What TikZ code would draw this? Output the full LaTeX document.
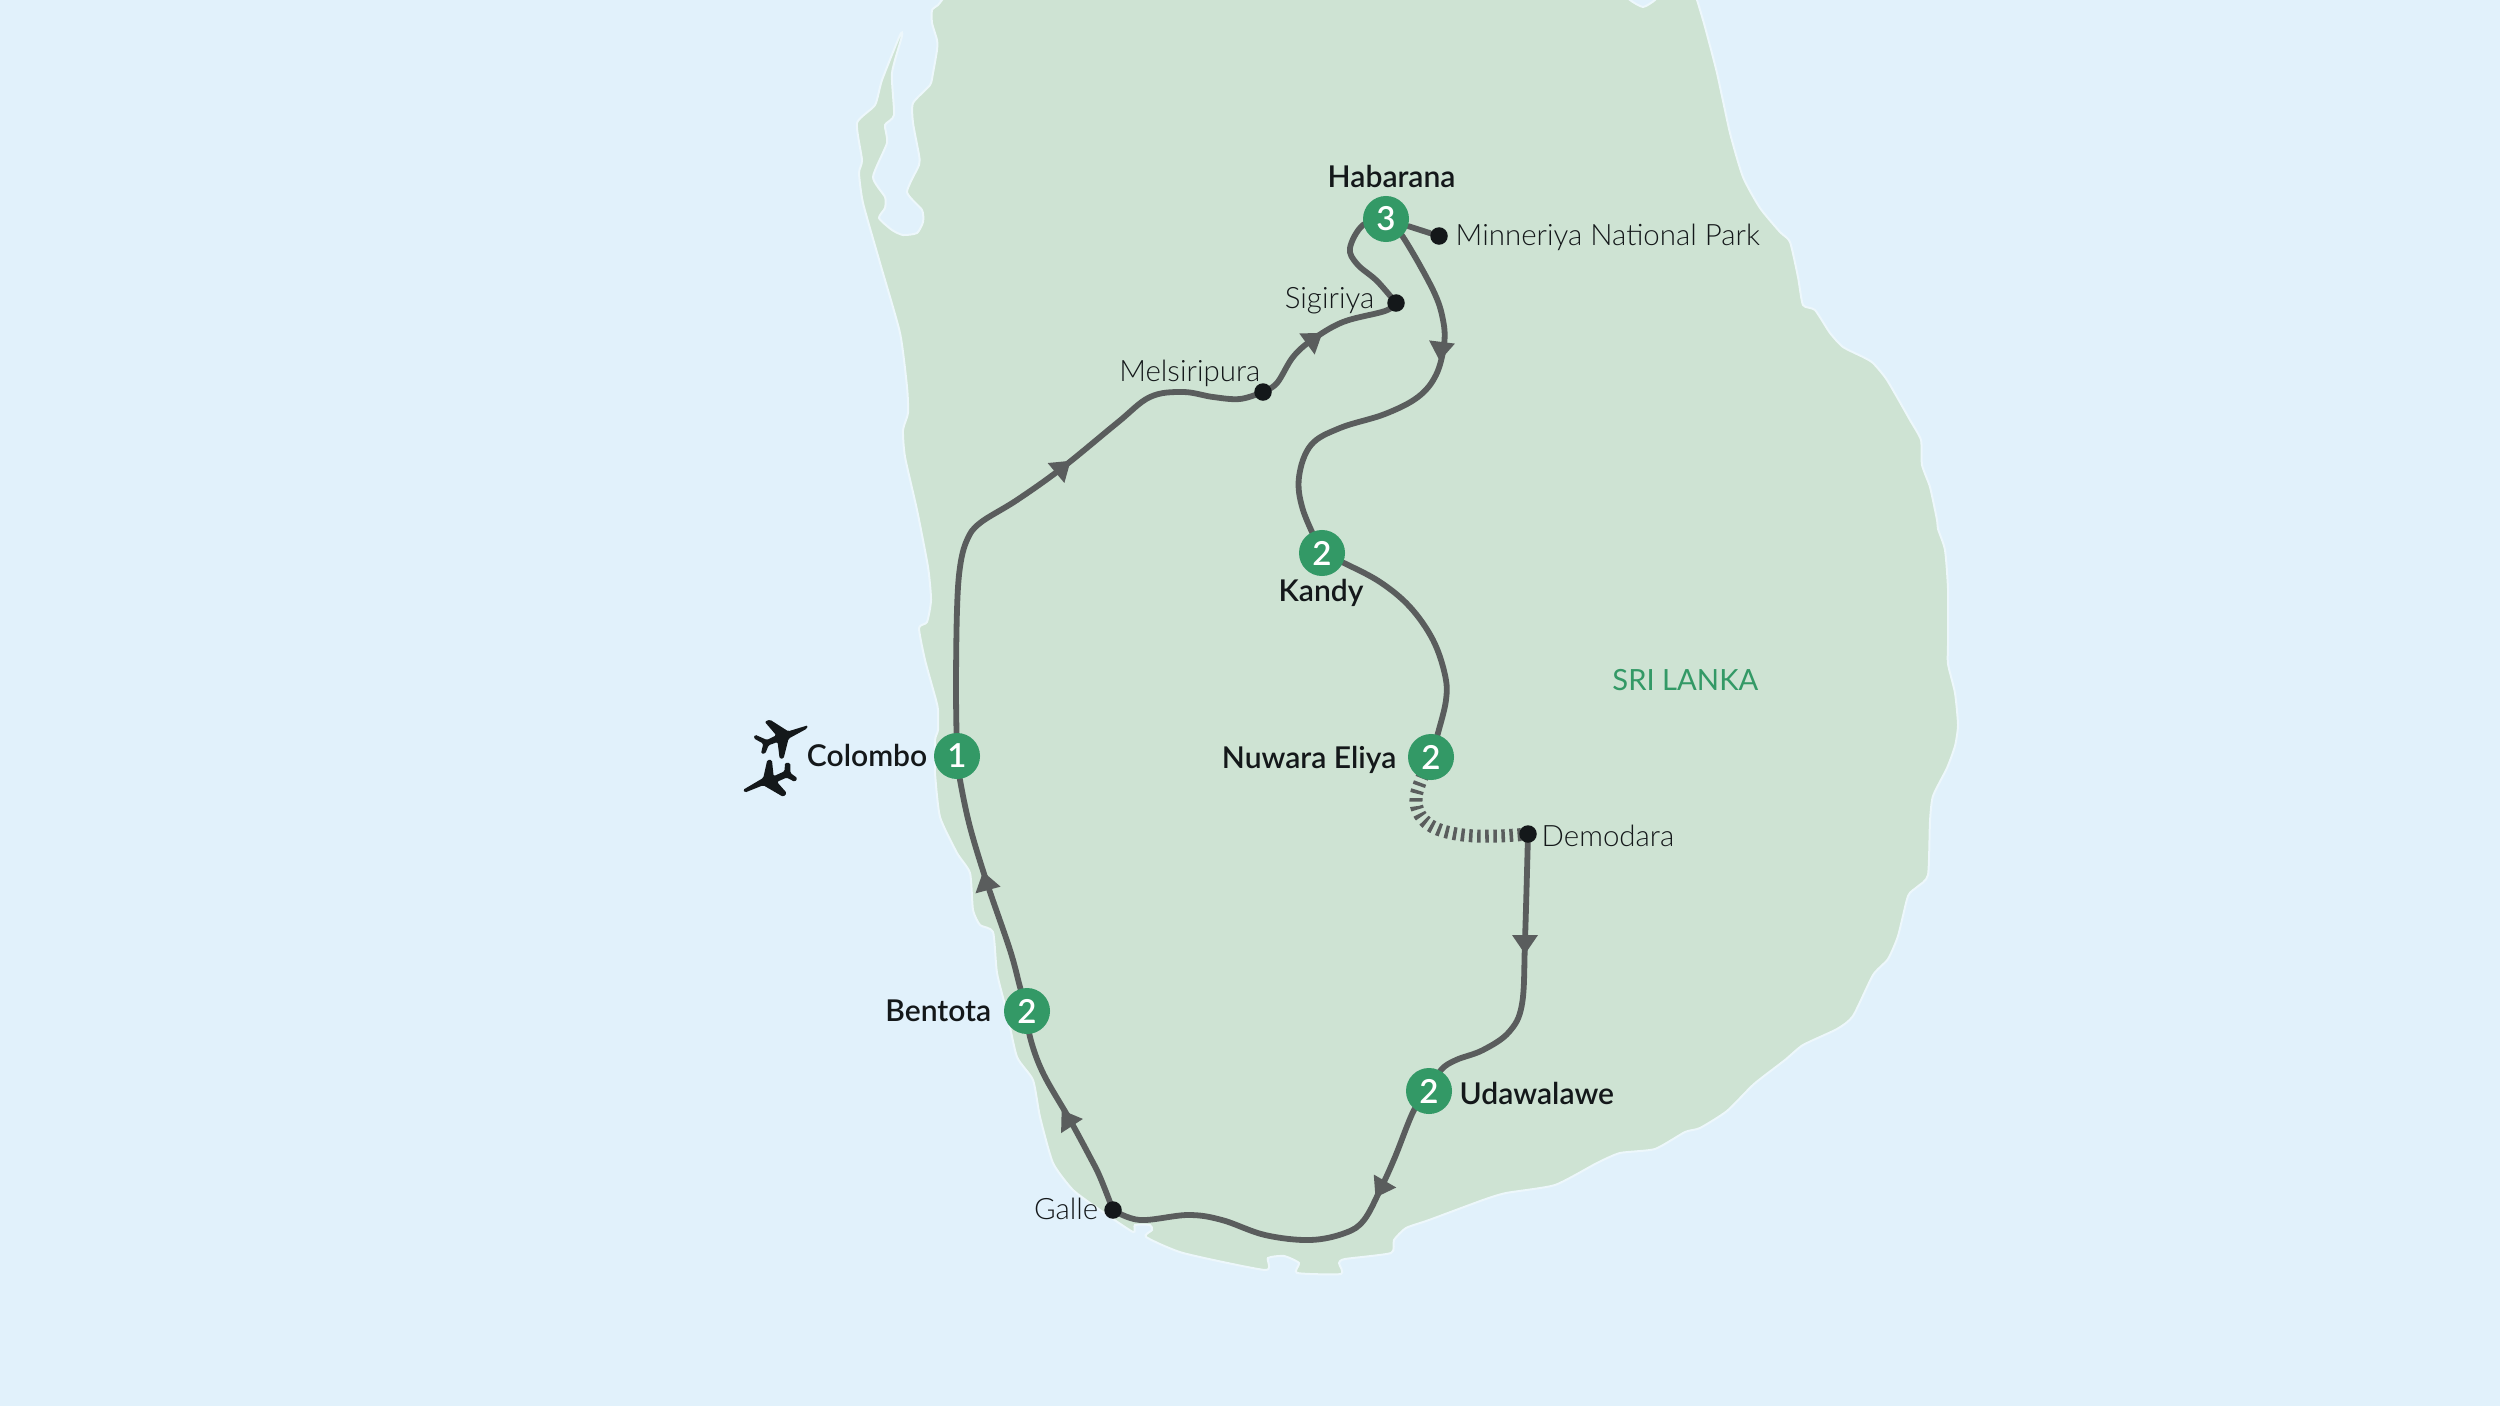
\documentclass[tikz,border=0pt]{standalone}
\usepackage{fontspec}
\setmainfont{Lato}
\newfontfamily\lightf{Lato Light}
\newfontfamily\semif{Lato Semibold}
\definecolor{sea}{HTML}{E1F1FB}
\definecolor{land}{HTML}{CEE3D3}
\definecolor{coast}{HTML}{EDF7FB}
\definecolor{stopgreen}{HTML}{339966}
\definecolor{routegrey}{HTML}{5A5D5D}
\definecolor{ink}{HTML}{14181A}
\pgfdeclarelayer{landlayer}
\pgfdeclarelayer{routelayer}
\pgfsetlayers{landlayer,routelayer,main}
\tikzset{
  stopnode/.style={circle,fill=stopgreen,text=white,minimum size=0.46cm,inner sep=0pt,font=\semif\fontsize{9.4pt}{10pt}\selectfont},
  dotnode/.style={circle,fill=ink,minimum size=0.175cm,inner sep=0pt},
  boldlabel/.style={inner sep=0pt,text=ink,font=\semif\fontsize{8.55pt}{10pt}\selectfont},
  lightlabel/.style={inner sep=0pt,text=ink,font=\lightf\fontsize{8.38pt}{10pt}\selectfont},
  countrylabel/.style={inner sep=0pt,text=stopgreen,font=\fontsize{8.3pt}{10pt}\selectfont},
  routeline/.style={draw=routegrey,line width=0.058cm,line cap=round,line join=round},
  railline/.style={draw=routegrey,line width=0.13cm,dash pattern=on 1pt off 1.3pt},
}
\newcommand{\headmark}[3]{\fill[routegrey,shift={(#1,#2)},rotate=#3] (19,0) -- (0,-13) -- (0,13) -- cycle;}
\begin{document}
\begin{tikzpicture}[x=0.01cm,y=-0.01cm]
\useasboundingbox (0,0) rectangle (2500,1406);
% stops
\node[stopnode] (colombo) at (957,756) {1};
\node[stopnode] (bentota) at (1027,1011) {2};
\node[stopnode] (udawalawe) at (1429,1091) {2};
\node[stopnode] (nuwara) at (1431,757) {2};
\node[stopnode] (kandy) at (1322,553) {2};
\node[stopnode] (habarana) at (1386,219) {3};
\node[dotnode] (minneriya) at (1439,236) {};
\node[dotnode] (sigiriya) at (1396,303) {};
\node[dotnode] (melsiripura) at (1263,392) {};
\node[dotnode] (demodara) at (1528,834) {};
\node[dotnode] (galle) at (1113,1210) {};
% labels
\node[boldlabel,anchor=base east] (lcolombo) at (928,766) {Colombo};
\node[boldlabel,anchor=base east] (lbentota) at (992,1021) {Bentota};
\node[boldlabel,anchor=base west] (lhabarana) at (1327,187) {Habarana};
\node[boldlabel,anchor=base west] (lkandy) at (1278,601) {Kandy};
\node[boldlabel,anchor=base east] (lnuwara) at (1397,768) {Nuwara Eliya};
\node[boldlabel,anchor=base west] (ludawalawe) at (1459,1104) {Udawalawe};
\node[lightlabel,anchor=base west] (lminneriya) at (1455,245) {Minneriya National Park};
\node[lightlabel,anchor=base east] (lsigiriya) at (1375,308) {Sigiriya};
\node[lightlabel,anchor=base east] (lmelsiripura) at (1261,381) {Melsiripura};
\node[lightlabel,anchor=base west] (ldemodara) at (1541,846) {Demodara};
\node[lightlabel,anchor=base east] (lgalle) at (1099,1219) {Galle};
\node[countrylabel,anchor=base east] (lcountry) at (1759,690) {SRI LANKA};
% aeroplanes
\begin{scope}[shift={(735,710)},x=0.00333cm,y=-0.00333cm,rounded corners=0.4pt]
\fill[ink] (219,46) -- (160,64) -- (105,29) -- (89,35) -- (124,76) -- (96,90) -- (60,74) -- (56,85) -- (85,101) -- (78,131) -- (91,131) -- (101,106) -- (128,96) -- (134,146) -- (146,146) -- (161,86) -- (216,56) -- cycle;
\fill[ink] (24,240) -- (85,204) -- (97,150) -- (111,150) -- (116,199) -- (149,184) -- (150,159) -- (166,159) -- (166,189) -- (188,205) -- (180,216) -- (155,203) -- (126,216) -- (156,250) -- (145,261) -- (85,226) -- (30,248) -- cycle;
\end{scope}
\begin{pgfonlayer}{landlayer}
\fill[sea] (0,0) rectangle (2500,1406);
\begin{scope}
\clip (0,0) rectangle (2500,1406);
\filldraw[fill=land,draw=coast,line width=0.02cm] plot[smooth,tension=0.35] coordinates {
(1692,-10) (1697,0) (1705,27) (1717,73) (1730,133) (1743,177) (1760,208) (1780,232) (1790,242) (1798,277) (1803,305) (1815,310) (1830,333) (1843,347) (1863,357) (1873,363) (1887,380) (1910,420) (1921,440) (1922,465) (1930,487) (1937,520) (1938,529) (1945,550) (1948,589) (1948,643) (1948,664) (1955,693) (1958,725) (1955,746) (1947,768) (1933,796) (1930,821) (1928,875) (1917,887) (1908,896) (1898,936) (1888,959) (1873,975) (1853,1016) (1837,1029) (1803,1045) (1785,1060) (1754,1084) (1727,1111) (1700,1128) (1685,1132) (1655,1149) (1620,1153) (1597,1163) (1555,1185) (1506,1193) (1483,1200) (1429,1220) (1406,1228) (1394,1240) (1391,1253) (1345,1259) (1339,1263) (1341,1274) (1297,1273) (1299,1263) (1284,1256) (1268,1258) (1265,1270) (1183,1253) (1146,1237) (1152,1230) (1150,1225) (1135,1225) (1133,1232) (1100,1210) (1073,1190) (1053,1163) (1040,1117) (1033,1080) (1017,1057) (1007,1013) (997,973) (993,932) (980,925) (973,910) (970,873) (957,853) (940,817) (935,773) (935,740) (938,730) (938,710) (936,700) (925,660) (919,628) (927,622) (931,600) (928,567) (917,510) (905,457) (903,430) (908,413) (907,387) (900,333) (880,263) (863,203) (859,173) (862,160) (857,123) (875,105) (882,80) (900,35) (902,36) (892,73) (894,115) (885,125) (887,143) (873,177) (885,197) (885,208) (879,218) (892,230) (903,235) (917,233) (923,222) (922,210) (907,192) (919,165) (919,155) (913,123) (913,103) (930,85) (933,73) (937,50) (937,40) (932,23) (932,10) (938,5) (942,0) (950,-10)
(1622,-10) (1630,0) (1643,7) (1655,0) (1662,-10)
} -- cycle;
\end{scope}
\end{pgfonlayer}
\begin{pgfonlayer}{routelayer}
\draw[routeline] plot[smooth,tension=0.6] coordinates {(colombo) (956,690) (957,610) (960,567) (967,540) (980,523) (1017,500) (1062,468) (1117,423) (1150,397) (1183,392) (1213,397) (1240,399) (melsiripura)};
\draw[routeline] plot[smooth,tension=0.6] coordinates {(melsiripura) (1277,383) (1293,357) (1312,340) (1343,322) (1385,311) (sigiriya)};
\draw[routeline] plot[smooth,tension=0.6] coordinates {(sigiriya) (1377,281) (1357,264) (1350,248) (1363,225) (habarana)};
\draw[routeline] (habarana) -- (minneriya);
\draw[routeline] plot[smooth,tension=0.6] coordinates {(habarana) (1403,237) (1433,290) (1443,320) (1444,345) (1436,375) (1418,397) (1385,414) (1340,428) (1311,445) (1299,477) (1303,510) (kandy)};
\draw[routeline] plot[smooth,tension=0.6] coordinates {(kandy) (1344,563) (1380,582) (1410,607) (1433,640) (1445,675) (1446,700) (1438,733) (nuwara)};
\draw[railline] plot[smooth,tension=0.6] coordinates {(1423,775) (1416,797) (1420,815) (1435,828) (1463,835) (1497,836) (demodara)};
\draw[routeline] plot[smooth,tension=0.6] coordinates {(demodara) (1525,940) (1522,1004) (1509,1032) (1483,1050) (1456,1060) (1441,1070) (udawalawe)};
\draw[routeline] plot[smooth,tension=0.6] coordinates {(udawalawe) (1414,1110) (1395,1157) (1381,1188) (1364,1220) (1345,1233) (1310,1240) (1265,1235) (1222,1220) (1188,1215) (1140,1220) (galle)};
\draw[routeline] plot[smooth,tension=0.6] coordinates {(galle) (1100,1177) (1090,1157) (1070,1120) (1043,1073) (1030,1037) (bentota)};
\draw[routeline] plot[smooth,tension=0.6] coordinates {(bentota) (1020,987) (1010,950) (987,883) (970,827) (960,780) (colombo)};
\headmark{988}{890}{105}
\headmark{1072}{1126}{123}
\headmark{1056}{473}{40}
\headmark{1307}{344}{36}
\headmark{1442}{342}{-97}
\headmark{1525}{935}{-90}
\headmark{1385}{1181}{-120}
\end{pgfonlayer}
\end{tikzpicture}
\end{document}
